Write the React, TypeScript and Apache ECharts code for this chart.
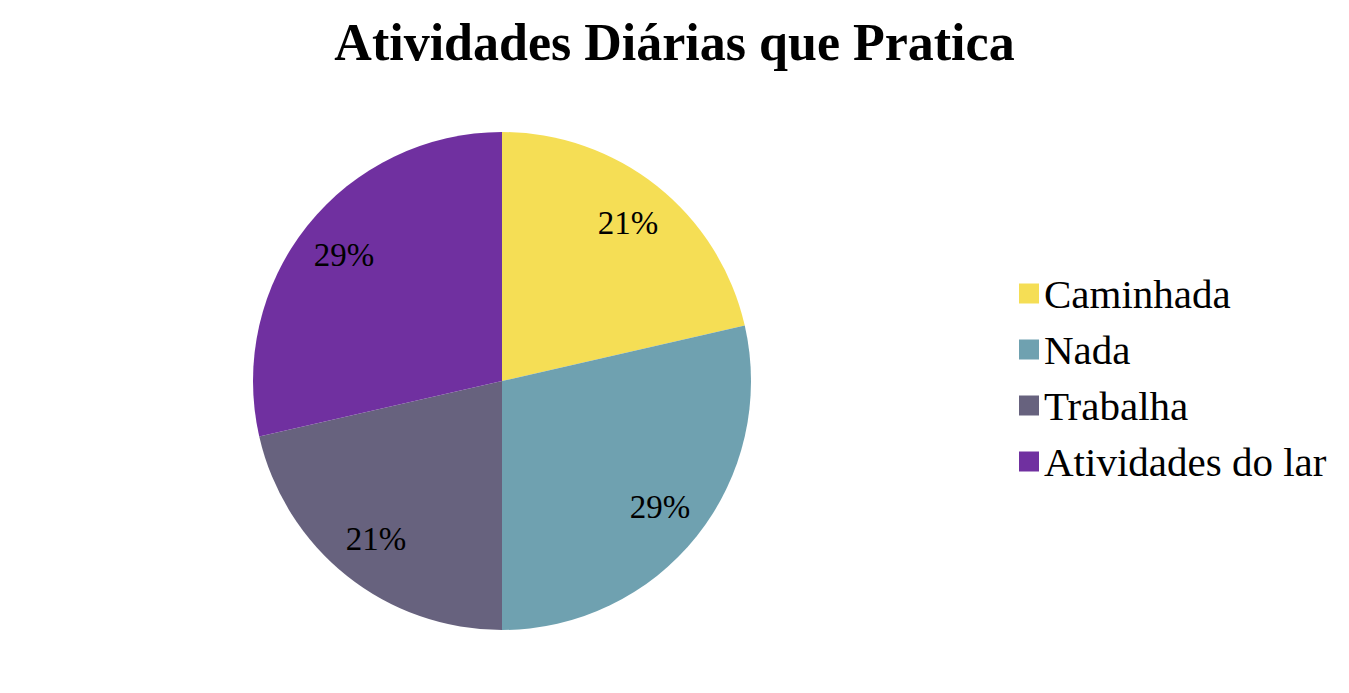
import React, { useEffect, useRef } from "react";
import * as echarts from "echarts";

const title = "Atividades Diárias que Pratica";
const categories = ["Caminhada", "Nada", "Trabalha", "Atividades do lar"];
const values = [3, 4, 3, 4];
const colors = ["#F5DE55", "#6FA1B0", "#67627E", "#7030A0"];

export default function App() {
  const ref = useRef<HTMLDivElement>(null);
  useEffect(() => {
    if (!ref.current) return;
    const chart = echarts.init(ref.current, undefined, { renderer: "svg" });
    const font = "'Liberation Serif', 'Times New Roman', serif";
    const pieData = categories.map((name, i) => ({
      name,
      value: values[i],
      itemStyle: { color: colors[i] },
    }));
    const labelData = categories.map((name, i) => ({
      name,
      value: values[i],
    }));
    chart.setOption({
      animation: false,
      backgroundColor: "#ffffff",
      title: {
        text: title,
        left: "center",
        top: 11,
        textStyle: {
          fontFamily: font,
          fontSize: 52,
          fontWeight: "bold",
          color: "#000000",
        },
      },
      legend: {
        orient: "vertical",
        left: 1014,
        top: 268,
        icon: "rect",
        itemWidth: 20,
        itemHeight: 20,
        itemGap: 15,
        selectedMode: false,
        data: categories,
        textStyle: {
          fontFamily: font,
          fontSize: 41,
          lineHeight: 40,
          color: "#000000",
        },
      },
      series: [
        {
          type: "pie",
          center: [502, 381],
          radius: [0, 249],
          startAngle: 90,
          clockwise: true,
          silent: true,
          label: { show: false },
          labelLine: { show: false },
          emphasis: { disabled: true },
          data: pieData,
        },
        {
          type: "pie",
          center: [502, 381],
          radius: [149, 249],
          startAngle: 90,
          clockwise: true,
          silent: true,
          itemStyle: { color: "rgba(0,0,0,0)" },
          emphasis: { disabled: true },
          labelLine: { show: false },
          label: {
            show: true,
            position: "inside",
            formatter: (p: any) => Math.round(p.percent) + "%",
            fontFamily: font,
            fontSize: 33,
            color: "#000000",
          },
          data: labelData,
        },
      ],
    });
    return () => chart.dispose();
  }, []);
  return (
    <div
      ref={ref}
      style={{ position: "fixed", left: 0, top: 0, width: 1349, height: 693 }}
    />
  );
}
